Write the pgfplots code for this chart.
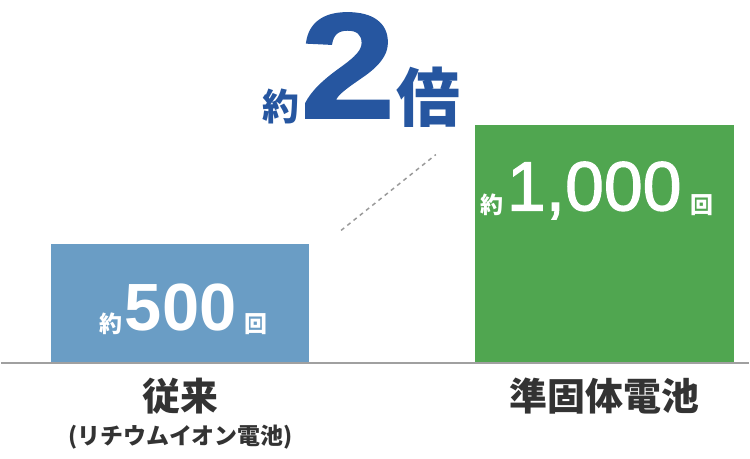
\documentclass[border=0pt]{standalone}
\usepackage{pgfplots}
\pgfplotsset{compat=1.18}
\usepackage{fontspec}
\setmainfont{Liberation Sans}
\newfontfamily\jp{Noto Sans CJK JP}
\newfontfamily\lib{Liberation Sans}
\newfontfamily\libmed{Liberation Sans}[FakeBold=1.6]
\newfontfamily\libheavy{Liberation Sans Bold}[FakeBold=1.5]
\definecolor{barblue}{RGB}{106,157,197}
\definecolor{bargreen}{RGB}{80,166,80}
\definecolor{txtblue}{RGB}{38,86,160}
\definecolor{txtgray}{RGB}{51,51,51}
\definecolor{basegray}{RGB}{160,160,160}
\newcommand{\fs}[1]{\fontsize{#1bp}{#1bp}\selectfont}
\begin{document}
\begin{tikzpicture}[x=1bp,y=1bp]
\begin{axis}[
  at={(0,0)}, anchor=south west,
  width=750bp, height=460bp, scale only axis,
  xmin=0, xmax=750, ymin=-401.7, ymax=1523.0,
  hide axis, clip=false,
  ybar, bar width=259.5, bar shift=0pt,
]
\path (rel axis cs:0,0) rectangle (rel axis cs:1,1);
\addplot[fill=barblue, draw=none] coordinates {(179.5,500)};
\addplot[fill=bargreen, draw=none] coordinates {(605,1000)};
\end{axis}
% baseline
\draw[basegray, line width=2bp] (0,460-364) -- (750,460-364);
% dashed connector
\draw[gray!80, line width=1.5bp, dash pattern=on 4bp off 4bp] (341,460-231) -- (436,460-155);
% top label
\node[anchor=base west, inner sep=0, txtblue] at (262,460-121) {\jp\bfseries\fs{37}約};
\node[anchor=base west, inner sep=0, txtblue] at (300,460-118) {\scalebox{1.14}[1]{\libheavy\fs{150}2}};
\node[anchor=base west, inner sep=0, txtblue] at (396,460-122) {\jp\bfseries\fs{64}倍};
% bar labels
\node[anchor=base west, inner sep=0, white] at (99,460-333) {\jp\bfseries\fs{23}約};
\node[anchor=base west, inner sep=0, white] at (124,460-331) {\lib\bfseries\fs{67}500};
\node[anchor=base west, inner sep=0, white] at (244,460-333) {\jp\bfseries\fs{23}回};
\node[anchor=base west, inner sep=0, white] at (481,460-214) {\jp\bfseries\fs{23}約};
\node[anchor=base west, inner sep=0, white] at (507,460-211) {\libmed\fs{70}1,000};
\node[anchor=base west, inner sep=0, white] at (691,460-214) {\jp\bfseries\fs{23}回};
% category labels
\node[anchor=base, inner sep=0, txtgray] at (180,460-412) {\jp\bfseries\fs{38}従来};
\node[anchor=base, inner sep=0, txtgray] at (180,460-446) {\jp\bfseries\fs{23}(リチウムイオン電池)};
\node[anchor=base, inner sep=0, txtgray] at (605,460-412) {\jp\bfseries\fs{38}準固体電池};
\end{tikzpicture}
\end{document}
